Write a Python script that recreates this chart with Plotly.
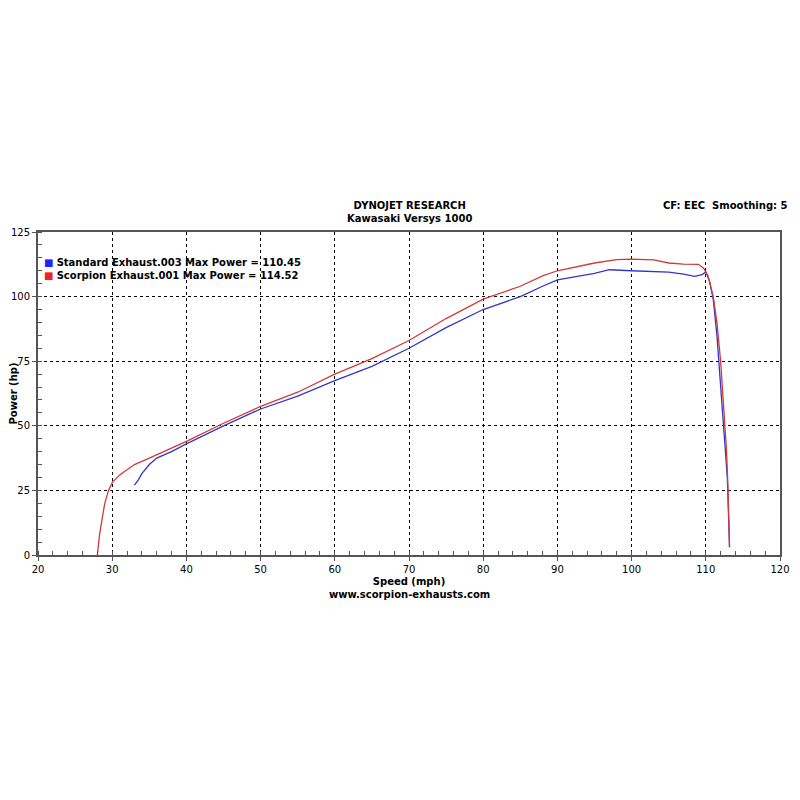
import plotly.graph_objects as go

red_speed = [28, 28.3, 28.7, 29, 29.5, 30, 31, 32, 33, 35, 37, 40, 45, 50, 55, 60, 65, 70, 75, 80, 85, 88, 90, 95, 98, 100, 103, 105, 107, 109, 109.7, 110.3, 111, 111.5, 112, 112.5, 112.8, 113, 113.2]
red_power = [0, 8, 15, 20, 25, 28, 31, 33, 35, 37.5, 40, 44, 51, 57.5, 63, 70, 76, 83, 91.5, 99, 104, 108, 110, 113, 114.3, 114.5, 114.2, 113, 112.6, 112.5, 111, 108, 100, 90, 75, 55, 40, 25, 3]

blue_speed = [33, 33.5, 34, 35, 36, 38, 40, 45, 50, 55, 60, 65, 70, 75, 80, 85, 88, 90, 95, 97, 100, 103, 105, 107, 108.5, 109.5, 110, 110.5, 111, 111.5, 112, 112.3, 112.6, 112.9, 113.1, 113.2]
blue_power = [27, 29, 31.5, 35, 37.5, 40, 43, 50, 56.5, 61.5, 67.5, 73, 80, 88, 95, 100, 104, 106.5, 109, 110.4, 110, 109.8, 109.5, 108.7, 107.8, 108.5, 109.5, 106, 99, 85, 65, 50, 42, 30, 12, 3]

fig = go.Figure()
fig.add_trace(go.Scatter(x=blue_speed, y=blue_power, mode="lines",
                         line=dict(color="#3535c8", width=1.3), showlegend=False))
fig.add_trace(go.Scatter(x=red_speed, y=red_power, mode="lines",
                         line=dict(color="#d03a3a", width=1.3), showlegend=False))

fnt = dict(family="DejaVu Sans", size=10, color="black")
axis = dict(showline=True, linecolor="#555", linewidth=2, mirror=True, automargin=False,
            showgrid=True, gridcolor="black", griddash="dot", gridwidth=1,
            ticks="outside", ticklen=4, tickcolor="#555", zeroline=False,
            tickfont=dict(family="DejaVu Sans", size=10, color="black"))
fig.update_xaxes(**axis, range=[20, 120], dtick=10,
                 minor=dict(dtick=2, ticks="inside", ticklen=4, tickcolor="#555"),
                 title=dict(text="<b>Speed (mph)</b>", font=fnt, standoff=4))
fig.update_yaxes(**axis, range=[0, 125], dtick=25,
                 minor=dict(dtick=5, ticks="inside", ticklen=4, tickcolor="#555"),
                 title=dict(text="<b>Power (hp)</b>", font=fnt, standoff=2))

fig.update_layout(
    width=800, height=800, plot_bgcolor="white", paper_bgcolor="white",
    margin=dict(l=30, r=28, t=224, b=253),
    font=fnt,
    annotations=[
        dict(text="<b>DYNOJET RESEARCH</b><br><b>Kawasaki Versys 1000</b>", x=0.5, y=1.02,
             xref="paper", yref="paper", xanchor="center", yanchor="bottom", showarrow=False,
             font=fnt),
        dict(text="<b>CF: EEC  Smoothing: 5</b>", x=1.0, xshift=10, y=1.06, xref="paper", yref="paper",
             xanchor="right", yanchor="bottom", showarrow=False, font=fnt),
        dict(text="<b>www.scorpion-exhausts.com</b>", x=0.5, y=-0.1, xref="paper", yref="paper",
             xanchor="center", yanchor="top", showarrow=False, font=fnt),
        dict(text="<span style='color:#2222ff'>■</span> <b>Standard Exhaust.003 Max Power = 110.45</b><br>"
                  "<span style='color:#ee2222'>■</span> <b>Scorpion Exhaust.001 Max Power = 114.52</b>",
             x=0.005, y=0.93, xref="paper", yref="paper", xanchor="left", yanchor="top",
             align="left", showarrow=False, font=fnt),
    ],
)

fig.write_html("out.html")
